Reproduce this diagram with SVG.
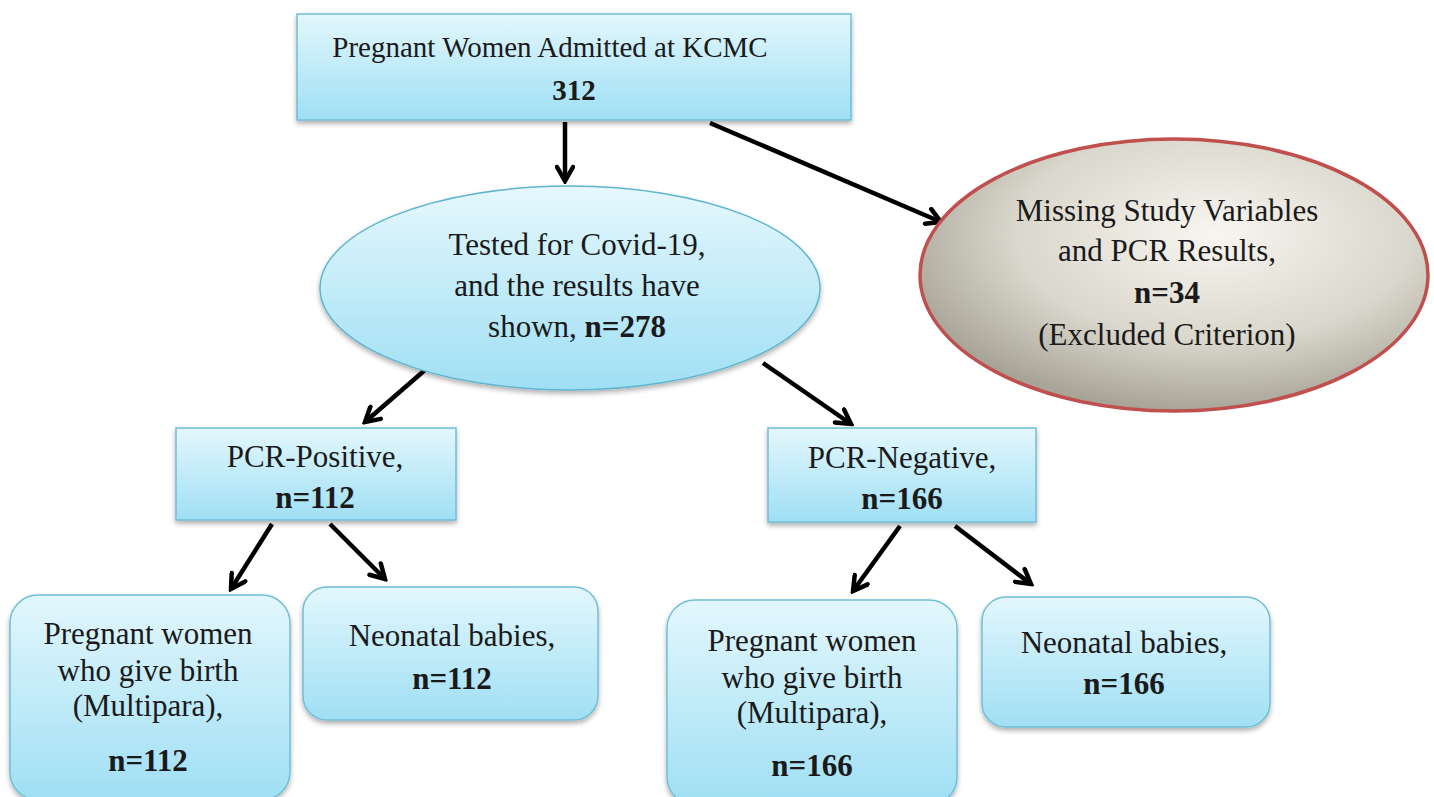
<svg xmlns="http://www.w3.org/2000/svg" width="1434" height="797" viewBox="0 0 1434 797">
  <style>
    text { font-family: "Liberation Serif", "Times New Roman", serif; font-size: 31px; fill: #1a1a1a; text-anchor: middle; }
    .b { font-weight: bold; }
    .top { font-size: 29px; }
    .box { fill: url(#blueGrad); stroke: #6fbfd6; stroke-width: 1.5; filter: url(#shadow); }
    .conn { stroke: #000; stroke-width: 4.5; fill: none; marker-end: url(#arrow); }
  </style>
  <defs>
    <linearGradient id="blueGrad" x1="0" y1="0" x2="0" y2="1">
      <stop offset="0" stop-color="#e3f7fd"/>
      <stop offset="1" stop-color="#9fdff4"/>
    </linearGradient>
    <linearGradient id="blueEllGrad" x1="0" y1="0" x2="0" y2="1">
      <stop offset="0" stop-color="#e6f8fd"/>
      <stop offset="1" stop-color="#9fdff4"/>
    </linearGradient>
    <radialGradient id="greyGrad" cx="0.58" cy="0.35" r="0.65">
      <stop offset="0" stop-color="#f8f6f0"/>
      <stop offset="0.6" stop-color="#dad7cc"/>
      <stop offset="1" stop-color="#a8a498"/>
    </radialGradient>
    <filter id="shadow" x="-10%" y="-10%" width="120%" height="130%">
      <feDropShadow dx="0" dy="3" stdDeviation="2.5" flood-color="#000" flood-opacity="0.3"/>
    </filter>
    <marker id="arrow" markerUnits="userSpaceOnUse" viewBox="0 0 20 20" markerWidth="20" markerHeight="20" refX="17" refY="10" orient="auto">
      <path d="M3,2 L17,10 L3,18" fill="none" stroke="#000" stroke-width="4.5" stroke-linecap="round" stroke-linejoin="miter"/>
    </marker>
  </defs>
  <rect width="1434" height="797" fill="#fff"/>

  <g id="connectors">
    <line class="conn" x1="565" y1="122" x2="565" y2="181"/>
    <line class="conn" x1="710" y1="123" x2="941" y2="222"/>
    <line class="conn" x1="425" y1="370" x2="365" y2="422"/>
    <line class="conn" x1="763" y1="363" x2="851" y2="424"/>
    <line class="conn" x1="272" y1="524" x2="231" y2="589"/>
    <line class="conn" x1="330" y1="524" x2="385" y2="579"/>
    <line class="conn" x1="900" y1="526" x2="853" y2="591"/>
    <line class="conn" x1="955" y1="526" x2="1031" y2="584"/>
  </g>

  <g id="node-admitted">
    <rect class="box" x="297" y="14" width="554" height="106"/>
    <text class="top" x="550" y="57">Pregnant Women Admitted at KCMC</text>
    <text class="top b" x="574" y="100">312</text>
  </g>

  <g id="node-tested">
    <ellipse cx="570" cy="288" rx="250" ry="102" fill="url(#blueEllGrad)" stroke="#5fb5cf" stroke-width="1.5" filter="url(#shadow)"/>
    <text x="577" y="255">Tested for Covid-19,</text>
    <text x="577" y="296">and the results have</text>
    <text x="577" y="337">shown, <tspan class="b">n=278</tspan></text>
  </g>

  <g id="node-excluded">
    <ellipse cx="1174" cy="275" rx="254" ry="136" fill="url(#greyGrad)" stroke="#c0504d" stroke-width="3.5"/>
    <text x="1167" y="221">Missing Study Variables</text>
    <text x="1167" y="261">and PCR Results,</text>
    <text class="b" x="1167" y="303">n=34</text>
    <text x="1167" y="345">(Excluded Criterion)</text>
  </g>

  <g id="node-positive">
    <rect class="box" x="176" y="428" width="280" height="92"/>
    <text x="315" y="467">PCR-Positive,</text>
    <text class="b" x="315" y="508">n=112</text>
  </g>

  <g id="node-negative">
    <rect class="box" x="768" y="428" width="268" height="94"/>
    <text x="902" y="468">PCR-Negative,</text>
    <text class="b" x="902" y="509">n=166</text>
  </g>

  <g id="node-pos-women">
    <rect class="box" x="10" y="595" width="280" height="205" rx="28" ry="28"/>
    <text x="148" y="644">Pregnant women</text>
    <text x="148" y="681">who give birth</text>
    <text x="148" y="716">(Multipara),</text>
    <text class="b" x="148" y="771">n=112</text>
  </g>

  <g id="node-pos-babies">
    <rect class="box" x="303" y="587" width="295" height="133" rx="24" ry="24"/>
    <text x="452" y="646">Neonatal babies,</text>
    <text class="b" x="452" y="689">n=112</text>
  </g>

  <g id="node-neg-women">
    <rect class="box" x="667" y="600" width="290" height="205" rx="28" ry="28"/>
    <text x="812" y="651">Pregnant women</text>
    <text x="812" y="688">who give birth</text>
    <text x="812" y="723">(Multipara),</text>
    <text class="b" x="812" y="776">n=166</text>
  </g>

  <g id="node-neg-babies">
    <rect class="box" x="982" y="597" width="288" height="130" rx="24" ry="24"/>
    <text x="1124" y="653">Neonatal babies,</text>
    <text class="b" x="1124" y="694">n=166</text>
  </g>
</svg>
